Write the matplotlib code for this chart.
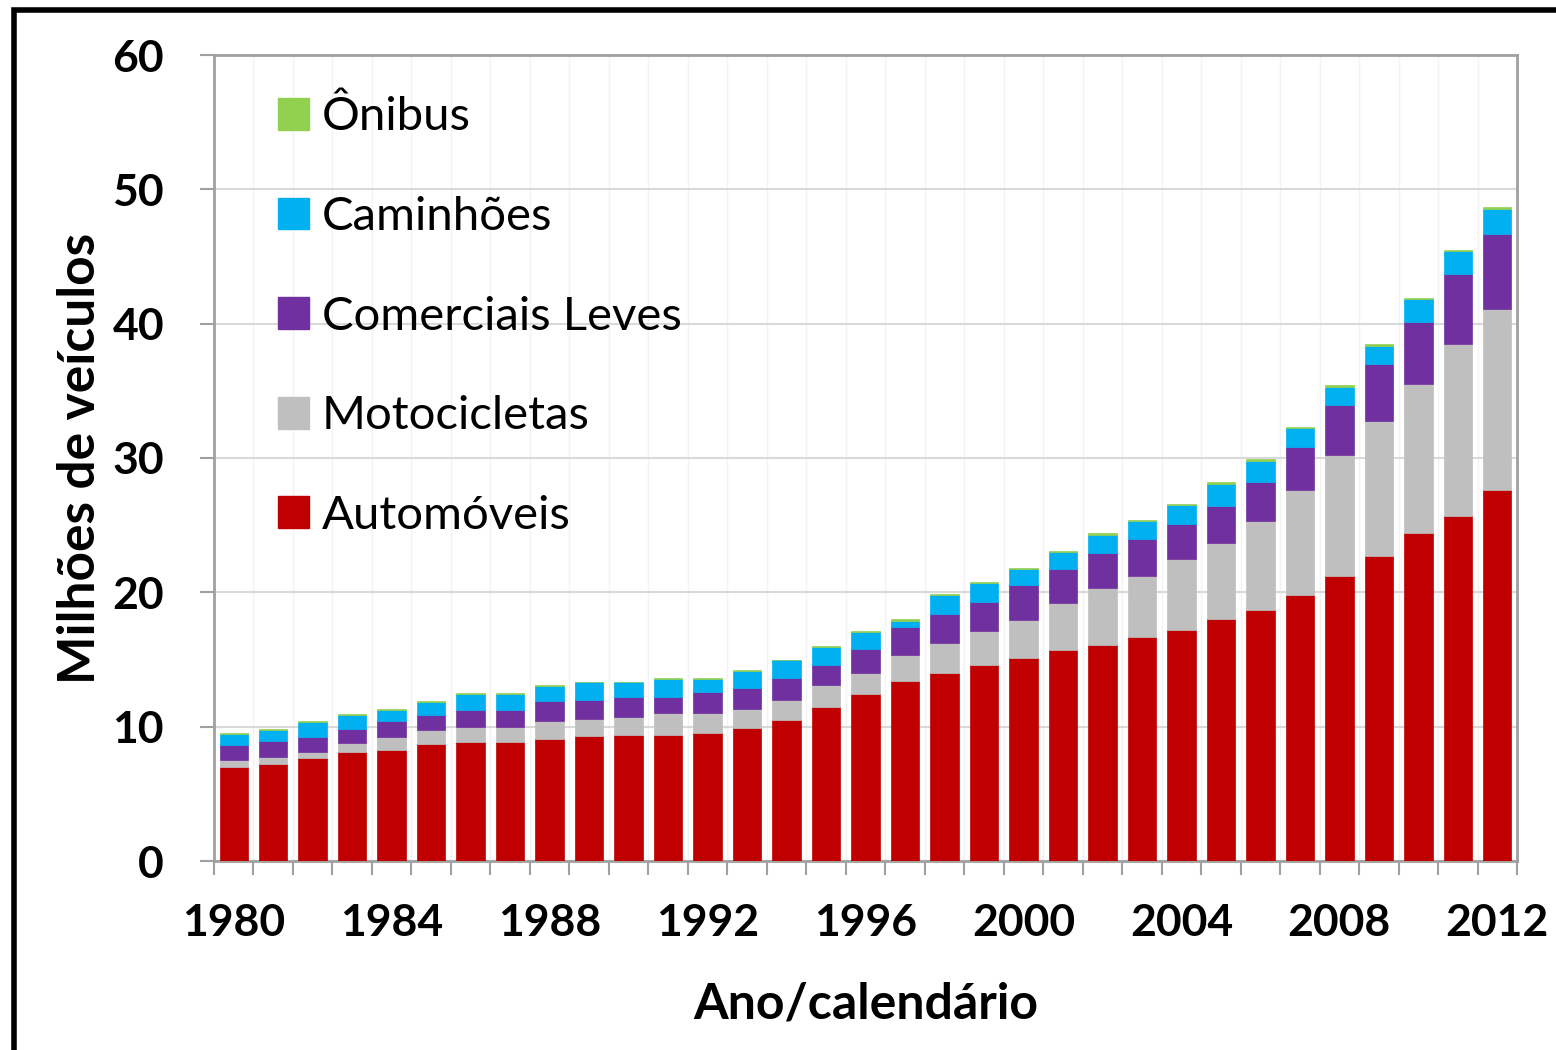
import matplotlib
matplotlib.use("Agg")
import matplotlib.pyplot as plt
from matplotlib.patches import Rectangle, Patch
import numpy as np

years = list(range(1980, 2013))
automoveis = [7.0, 7.2, 7.65, 8.1, 8.3, 8.7, 8.85, 8.85, 9.1, 9.3, 9.4, 9.4, 9.5, 9.9, 10.5,
              11.5, 12.4, 13.4, 14.0, 14.6, 15.1, 15.7, 16.1, 16.7, 17.2, 18.0, 18.7, 19.8,
              21.2, 22.7, 24.4, 25.7, 27.65]
motocicletas = [0.5, 0.55, 0.5, 0.65, 0.95, 1.05, 1.15, 1.15, 1.3, 1.3, 1.35, 1.6, 1.5, 1.45,
                1.5, 1.6, 1.6, 1.9, 2.2, 2.5, 2.85, 3.5, 4.2, 4.5, 5.3, 5.65, 6.6, 7.8, 9.0,
                10.05, 11.1, 12.8, 13.45]
comerciais = [1.1, 1.15, 1.1, 1.1, 1.15, 1.15, 1.25, 1.25, 1.5, 1.4, 1.45, 1.2, 1.6, 1.5, 1.6,
              1.5, 1.8, 2.1, 2.2, 2.2, 2.6, 2.5, 2.6, 2.8, 2.6, 2.75, 2.95, 3.25, 3.75, 4.25,
              4.6, 5.2, 5.6]
caminhoes = [0.85, 0.85, 1.1, 1.05, 0.85, 0.95, 1.2, 1.2, 1.15, 1.3, 1.1, 1.35, 0.95, 1.3,
             1.35, 1.3, 1.25, 0.5, 1.4, 1.4, 1.15, 1.3, 1.4, 1.3, 1.4, 1.7, 1.55, 1.35, 1.35,
             1.35, 1.7, 1.7, 1.85]
onibus = [0.05, 0.05, 0.05, 0.05, 0.05, 0.05, 0.05, 0.05, 0.05, 0.05, 0.05, 0.05, 0.05, 0.05,
          0.05, 0.1, 0.1, 0.1, 0.1, 0.1, 0.1, 0.1, 0.1, 0.1, 0.1, 0.1, 0.1, 0.1, 0.1, 0.1,
          0.1, 0.1, 0.15]

series_names = ["Automóveis", "Motocicletas", "Comerciais Leves", "Caminhões", "Ônibus"]
series_vals = [automoveis, motocicletas, comerciais, caminhoes, onibus]
colors = ["#C00000", "#BFBFBF", "#7030A0", "#00B0F0", "#92D050"]

plt.rcParams['font.family'] = ['Lato', 'DejaVu Sans']

fig = plt.figure(figsize=(15.56, 10.5), dpi=100)
ax = fig.add_axes([214/1556, 1-861/1050, (1517-214)/1556, (861-55)/1050])

x = np.arange(len(years))
bottom = np.zeros(len(years))
for name, vals, c in zip(series_names, series_vals, colors):
    v = np.array(vals)
    ax.bar(x, v, bottom=bottom, width=0.72, color=c, edgecolor=c, linewidth=0.5,
           label=name, zorder=3)
    bottom += v

ax.set_xlim(-0.5, len(years) - 0.5)
ax.set_ylim(0, 60)
ax.set_yticks(range(0, 61, 10))
ax.grid(axis='y', color='#D9D9D9', linewidth=1.5, zorder=0)
for b in np.arange(-0.5, len(years), 1):
    ax.axvline(b, color='#F3F3F3', linewidth=1.0, zorder=0)

ax.set_xticks(x[::4])
ax.set_xticklabels([str(y) for y in years[::4]])
ax.set_xticks(np.arange(-0.5, len(years), 1), minor=True)
ax.tick_params(axis='x', which='major', length=0, pad=30, labelsize=32)
ax.tick_params(axis='x', which='minor', length=10, width=1.5, color='#A0A0A0', direction='out')
ax.tick_params(axis='y', which='major', length=10, width=1.5, color='#A0A0A0', pad=26, labelsize=32)
for lab in ax.get_xticklabels() + ax.get_yticklabels():
    lab.set_fontweight('bold')

for s in ax.spines.values():
    s.set_color('#A0A0A0')
    s.set_linewidth(2)

ax.set_xlabel("Ano/calendário", fontsize=36, fontweight='bold', labelpad=28)
ax.set_ylabel("Milhões de veículos", fontsize=37, fontweight='bold', labelpad=6)

handles = [Patch(facecolor=c, edgecolor=c) for c in colors]
leg = ax.legend(handles[::-1], series_names[::-1], loc='upper left',
                bbox_to_anchor=((278-214)/1303, (861-96)/806), frameon=False,
                fontsize=34, handlelength=0.66, handleheight=0.66, handletextpad=0.27,
                labelspacing=1.22, borderpad=0, borderaxespad=0)

fig.patches.append(Rectangle((14/1556, -0.01), 1.02, 1 - 10/1050 + 0.01, transform=fig.transFigure,
                             fill=False, edgecolor='black', linewidth=4, zorder=10))

fig.savefig("out.png", dpi=100)
